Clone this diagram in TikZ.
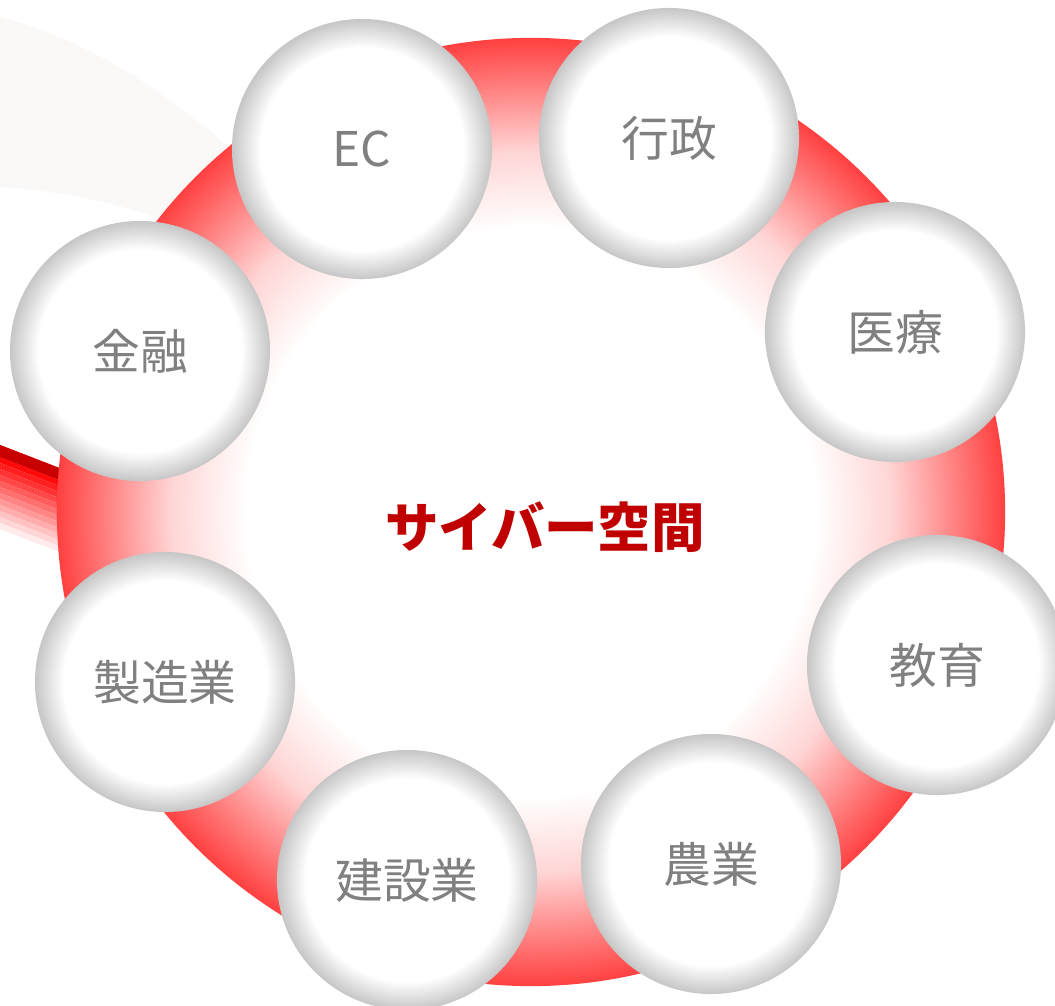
\documentclass[tikz,border=0pt]{standalone}
\usepackage{fontspec}
\newfontfamily\jpfont{Noto Sans CJK JP}
\usepackage{tikz}
\usetikzlibrary{positioning, shapes, calc}

\definecolor{ringred}{RGB}{255,64,64}
\definecolor{bandred}{RGB}{200,0,0}
\definecolor{bubblegray}{RGB}{198,198,198}
\definecolor{labelgray}{RGB}{128,128,128}
\definecolor{titlered}{RGB}{192,0,0}
\definecolor{markgray}{RGB}{251,248,248}

\pgfdeclareradialshading{ringshade}{\pgfpoint{0bp}{0bp}}{color(0bp)=(white); color(15bp)=(white); color(19bp)=(ringred!22!white); color(25bp)=(ringred); color(50bp)=(ringred)}
\pgfdeclareradialshading{bubbleshade}{\pgfpoint{0bp}{0bp}}{color(0bp)=(white); color(19.5bp)=(white); color(25bp)=(bubblegray); color(50bp)=(bubblegray)}

\begin{document}
\begin{tikzpicture}[x=0.025cm, y=-0.025cm,
  sector/.style={circle, inner sep=0pt, minimum size=6.5cm, shading=bubbleshade, text=labelgray, font=\jpfont\fontsize{34}{40}\selectfont},
  title/.style={text=titlered, font=\jpfont\bfseries\fontsize{38}{44}\selectfont}]
\useasboundingbox[fill=white] (0,0) rectangle (1055,1006);

% faint mark in the background
\fill[markgray] (0,17) .. controls (90,40) and (170,95) .. (232,150) -- (170,222) .. controls (110,200) and (50,190) .. (0,187) -- cycle;

% red band behind the ring, in stripes
\foreach \k in {0,...,13} {
  \pgfmathsetmacro{\p}{min(100,112-8*\k)}
  \fill[red!\p!white] (0,445+6*\k) -- (80,476+6*\k) -- (80,482+6*\k) -- (0,451+6*\k) -- cycle;
}
\fill[bandred] (0,445) -- (80,476) -- (80,488) -- (0,457) -- cycle;

% cyber space ring
\shade[shading=ringshade] (531,512) circle [radius=11.85cm];
\node (cyber) [title] at (545,527) {サイバー空間};

% sectors around it
\node (ec) [sector] at (362,149) {EC};
\node (gov) [sector] at (669,138) {行政};
\node (med) [sector] at (895,332) {医療};
\node (edu) [sector] at (937,665) {教育};
\node (agri) [sector] at (711,864) {農業};
\node (build) [sector] at (407,880) {建設業};
\node (manu) [sector] at (165,682) {製造業};
\node (fin) [sector] at (140,351) {金融};
\end{tikzpicture}
\end{document}
